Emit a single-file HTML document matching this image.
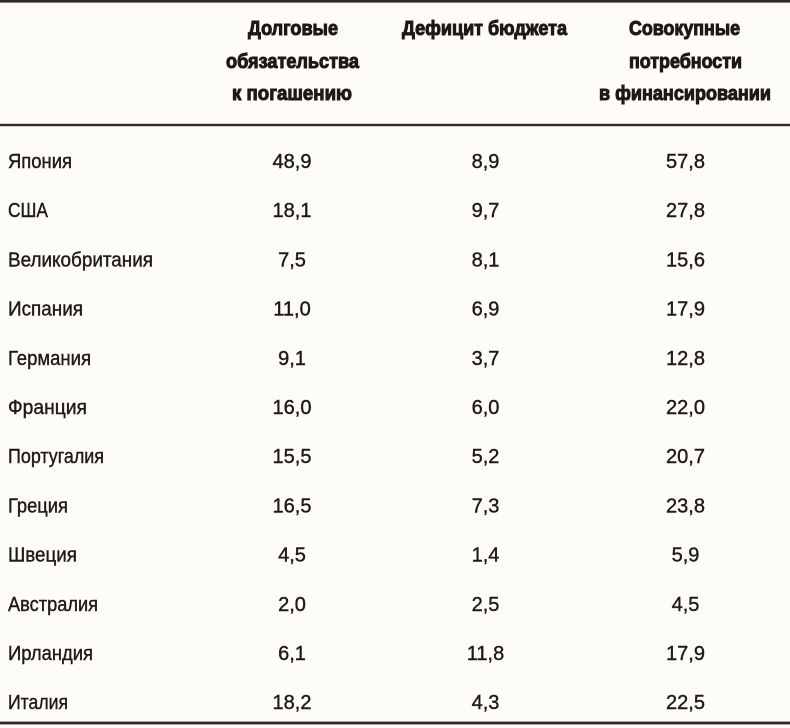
<!DOCTYPE html>
<html>
<head>
<meta charset="utf-8">
<style>
html,body{margin:0;padding:0;background:#fdfcf8;}
svg{display:block;}
.h{font-family:"Liberation Sans",sans-serif;font-weight:bold;font-size:20px;fill:#1e1a12;stroke:#1e1a12;stroke-width:1px;}
.n{font-family:"Liberation Sans",sans-serif;font-size:20px;fill:#1f1b13;stroke:#1f1b13;stroke-width:0.4px;}
.v{font-family:"Liberation Sans",sans-serif;font-size:20px;fill:#1f1b13;stroke:#1f1b13;stroke-width:0.4px;text-anchor:middle;}
</style>
</head>
<body>
<svg width="790" height="728" viewBox="0 0 790 728" xmlns="http://www.w3.org/2000/svg">
<rect x="0" y="0" width="790" height="728" fill="#fdfcf8"/>
<rect x="0" y="0" width="790" height="2.6" fill="#2e2a20"/>
<rect x="0" y="123.8" width="790" height="2.4" fill="#2e2a20"/>
<rect x="0" y="721.6" width="790" height="2.8" fill="#2e2a20"/>

<!-- header -->
<text class="h" x="248" y="35" textLength="90" lengthAdjust="spacingAndGlyphs">Долговые</text>
<text class="h" x="226" y="68" textLength="133" lengthAdjust="spacingAndGlyphs">обязательства</text>
<text class="h" x="232" y="100" textLength="120" lengthAdjust="spacingAndGlyphs">к погашению</text>
<text class="h" x="402" y="35" textLength="165" lengthAdjust="spacingAndGlyphs">Дефицит бюджета</text>
<text class="h" x="629" y="35" textLength="111" lengthAdjust="spacingAndGlyphs">Совокупные</text>
<text class="h" x="629" y="68" textLength="113" lengthAdjust="spacingAndGlyphs">потребности</text>
<text class="h" x="599" y="100" textLength="172" lengthAdjust="spacingAndGlyphs">в финансировании</text>

<!-- rows -->
<text class="n" x="8" y="168" textLength="64" lengthAdjust="spacingAndGlyphs">Япония</text>
<text class="v" x="292" y="168">48,9</text><text class="v" x="485.5" y="168">8,9</text><text class="v" x="685.5" y="168">57,8</text>

<text class="n" x="8" y="217.2" textLength="40" lengthAdjust="spacingAndGlyphs">США</text>
<text class="v" x="292" y="217.2">18,1</text><text class="v" x="485.5" y="217.2">9,7</text><text class="v" x="685.5" y="217.2">27,8</text>

<text class="n" x="8" y="266.4" textLength="145" lengthAdjust="spacingAndGlyphs">Великобритания</text>
<text class="v" x="292" y="266.4">7,5</text><text class="v" x="485.5" y="266.4">8,1</text><text class="v" x="685.5" y="266.4">15,6</text>

<text class="n" x="8" y="315.6" textLength="75" lengthAdjust="spacingAndGlyphs">Испания</text>
<text class="v" x="292" y="315.6">11,0</text><text class="v" x="485.5" y="315.6">6,9</text><text class="v" x="685.5" y="315.6">17,9</text>

<text class="n" x="8" y="364.8" textLength="83" lengthAdjust="spacingAndGlyphs">Германия</text>
<text class="v" x="292" y="364.8">9,1</text><text class="v" x="485.5" y="364.8">3,7</text><text class="v" x="685.5" y="364.8">12,8</text>

<text class="n" x="8" y="414" textLength="79" lengthAdjust="spacingAndGlyphs">Франция</text>
<text class="v" x="292" y="414">16,0</text><text class="v" x="485.5" y="414">6,0</text><text class="v" x="685.5" y="414">22,0</text>

<text class="n" x="8" y="463.2" textLength="96" lengthAdjust="spacingAndGlyphs">Португалия</text>
<text class="v" x="292" y="463.2">15,5</text><text class="v" x="485.5" y="463.2">5,2</text><text class="v" x="685.5" y="463.2">20,7</text>

<text class="n" x="8" y="512.4" textLength="60" lengthAdjust="spacingAndGlyphs">Греция</text>
<text class="v" x="292" y="512.4">16,5</text><text class="v" x="485.5" y="512.4">7,3</text><text class="v" x="685.5" y="512.4">23,8</text>

<text class="n" x="8" y="561.6" textLength="69" lengthAdjust="spacingAndGlyphs">Швеция</text>
<text class="v" x="292" y="561.6">4,5</text><text class="v" x="485.5" y="561.6">1,4</text><text class="v" x="685.5" y="561.6">5,9</text>

<text class="n" x="8" y="610.8" textLength="90" lengthAdjust="spacingAndGlyphs">Австралия</text>
<text class="v" x="292" y="610.8">2,0</text><text class="v" x="485.5" y="610.8">2,5</text><text class="v" x="685.5" y="610.8">4,5</text>

<text class="n" x="8" y="660" textLength="85" lengthAdjust="spacingAndGlyphs">Ирландия</text>
<text class="v" x="292" y="660">6,1</text><text class="v" x="485.5" y="660">11,8</text><text class="v" x="685.5" y="660">17,9</text>

<text class="n" x="8" y="709.2" textLength="60" lengthAdjust="spacingAndGlyphs">Италия</text>
<text class="v" x="292" y="709.2">18,2</text><text class="v" x="485.5" y="709.2">4,3</text><text class="v" x="685.5" y="709.2">22,5</text>
</svg>
</body>
</html>
